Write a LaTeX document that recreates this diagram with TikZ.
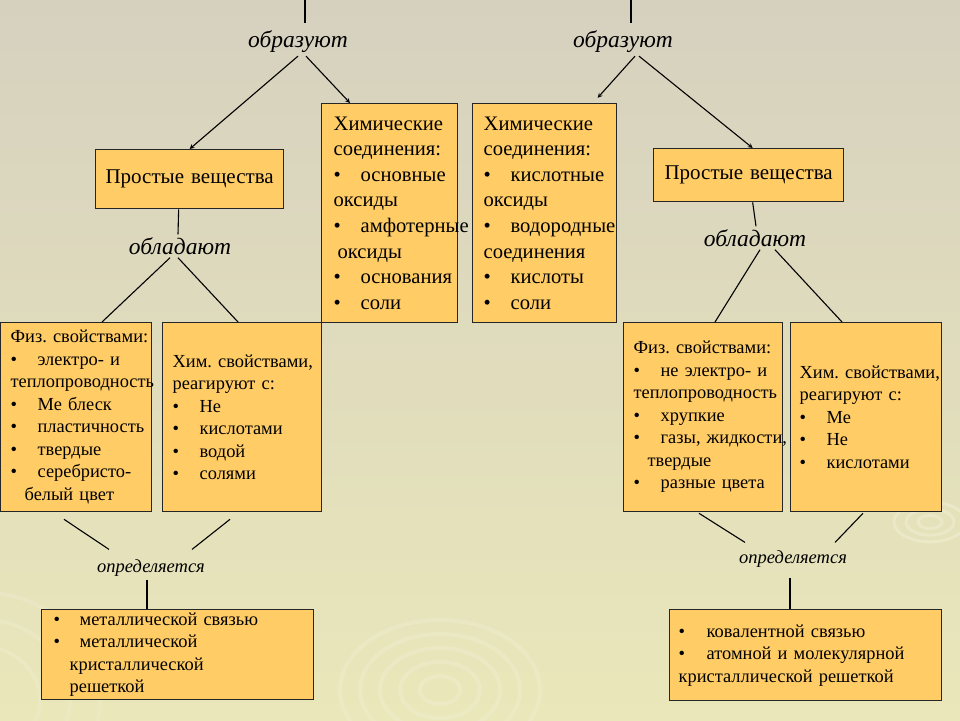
\documentclass[tikz,border=0pt]{standalone}
\usepackage{fontspec}
\setmainfont{Liberation Serif}
\usetikzlibrary{arrows}
\definecolor{boxfill}{HTML}{FFCC66}
\definecolor{bgtop}{RGB}{214,209,191}
\definecolor{bgbot}{RGB}{234,231,186}
\definecolor{ripple}{RGB}{242,240,214}
\newcommand\itm[1][27pt]{\makebox[#1][l]{\textbullet}}
\frenchspacing
\begin{document}
\begin{tikzpicture}[x=1pt, y=-1pt,
  box/.style={draw=black!85, line width=1.3pt, fill=boxfill, anchor=north west,
              align=left, inner ysep=2pt, inner xsep=10pt,
              font=\fontsize{18.4}{22.5}\selectfont},
  bigbox/.style={box, font=\fontsize{20.6}{25.6}\selectfont},
  lbl/.style={inner sep=3pt, font=\fontsize{23.5}{26}\selectfont\itshape},
  smalllbl/.style={inner sep=3pt, font=\fontsize{18.5}{20}\selectfont\itshape},
  arr/.style={->, >=stealth, line width=1.1pt},
  link/.style={line width=1.1pt}
]
  % --- background ---
  \shade[top color=bgtop, bottom color=bgbot] (0,0) rectangle (960,720);
  \useasboundingbox (0,0) rectangle (960,720);
  \foreach \r in {12,24,36}
    \draw[ripple, line width=3pt, opacity=0.5] (930,522) ellipse ({\r pt} and {0.55*\r pt});
  \foreach \r in {20,40,60,80,100}
    \draw[ripple, line width=4pt, opacity=0.35] (440,690) ellipse ({\r pt} and {0.7*\r pt});
  \foreach \r in {60,90,120}
    \draw[ripple, line width=4pt, opacity=0.3] (-20,700) ellipse ({\r pt} and {0.9*\r pt});

  % --- top lines and labels ---
  \coordinate (topL) at (305,0);
  \coordinate (topR) at (631,0);
  \node[lbl] (formL) at (298,42) {образуют};
  \node[lbl] (formR) at (623,42) {образуют};
  \draw[link, shorten >=5pt] (topL) -- (topL |- formL.north);
  \draw[link, shorten >=5pt] (topR) -- (topR |- formR.north);

  % --- second row ---
  \node[box, font=\fontsize{21}{24}\selectfont, align=center, inner xsep=4pt, text width=180pt,
        minimum height=59pt] (prostL) at (95,149) {Простые вещества};
  \node[box, font=\fontsize{21}{24}\selectfont, align=center, inner xsep=4pt, text width=182pt,
        minimum height=53pt] (prostR) at (653,148) {Простые вещества};

  \node[bigbox, inner xsep=12pt, text width=112pt, minimum height=219pt] (chemL) at (321,103)
    {Химические\\соединения:\\\itm основные\\оксиды\\\itm\mbox{амфотерные}\\\hspace*{4pt}оксиды\\\itm основания\\\itm соли};
  \node[bigbox, inner xsep=11pt, text width=122pt, minimum height=219pt] (chemR) at (472,103)
    {Химические\\соединения:\\\itm кислотные\\оксиды\\\itm\mbox{водородные}\\соединения\\\itm кислоты\\\itm соли};

  \draw[arr] (formL.south) -- (prostL.north);
  \draw[arr] ([xshift=8pt]formL.south) -- ([xshift=29pt]chemL.north west);
  \draw[arr, shorten >=7pt] ([xshift=12pt]formR.south) -- ([xshift=121pt]chemR.north west);
  \draw[arr] ([xshift=16pt]formR.south) -- ([xshift=4pt]prostR.north);

  % --- свойства ---
  \node[lbl] (hasL) at (180,246) {обладают};
  \node[lbl] (hasR) at (755,238) {обладают};
  \draw[link] ([xshift=-11pt]prostL.south) -- ([xshift=-2pt]hasL.north);
  \draw[link] ([xshift=4pt]prostR.south) -- ([xshift=1pt]hasR.north);

  \node[box, text width=131pt, minimum height=189pt] (physL) at (0,322)
    {\mbox{Физ. свойствами:}\\\itm электро- и\\\mbox{теплопроводность}\\\itm Ме блеск\\\itm пластичность\\\itm твердые\\\itm серебристо-\\\hspace*{14pt}белый цвет};
  \node[box, text width=139pt, minimum height=189pt] (propL) at (162,322)
    {\mbox{Хим. свойствами,}\\реагируют с:\\\itm Не\\\itm кислотами\\\itm водой\\\itm солями\\[12pt]};
  \node[box, text width=139pt, minimum height=189pt] (physR) at (623,322)
    {\mbox{Физ. свойствами:}\\\itm не электро- и\\\mbox{теплопроводность}\\\itm хрупкие\\\itm\mbox{газы, жидкости,}\\\hspace*{14pt}твердые\\\itm разные цвета};
  \node[box, inner xsep=9pt, text width=133pt, minimum height=189pt] (propR) at (790,322)
    {\mbox{Хим. свойствами,}\\реагируют с:\\\itm Ме\\\itm Не\\\itm кислотами};

  \draw[link] ([xshift=-10pt]hasL.south) -- ([xshift=102pt]physL.north west);
  \draw[link] ([xshift=-2pt]hasL.south) -- ([xshift=76pt]propL.north west);
  \draw[link] ([xshift=5pt]hasR.south) -- ([xshift=92pt]physR.north west);
  \draw[link] ([xshift=20pt]hasR.south) -- ([xshift=52pt]propR.north west);

  % --- определяется ---
  \node[smalllbl] (detlabL) at (151,568) {определяется};
  \node[smalllbl] (detlabR) at (793,559) {определяется};
  \draw[link] ([xshift=64pt,yshift=-7pt]physL.south west) -- ([xshift=-42pt,yshift=7pt]detlabL.north);
  \draw[link] ([xshift=68pt,yshift=-7pt]propL.south west) -- ([xshift=41pt,yshift=7pt]detlabL.north);
  \draw[link] ([xshift=76pt,yshift=-1pt]physR.south west) -- ([xshift=-48pt,yshift=5pt]detlabR.north);
  \draw[link] ([xshift=73pt,yshift=-1pt]propR.south west) -- ([xshift=42pt,yshift=5pt]detlabR.north);

  \node[box, inner xsep=12pt, text width=248pt, minimum height=90pt] (detL) at (41,609)
    {\itm[26pt]металлической связью\\\itm[26pt]металлической\\\hspace*{16pt}кристаллической\\\hspace*{16pt}решеткой};
  \node[box, inner xsep=9pt, text width=254pt, minimum height=91pt] (detR) at (669,609)
    {\itm[28pt]ковалентной связью\\\itm[28pt]атомной и молекулярной\\кристаллической решеткой};

  \draw[link] ([xshift=-4pt]detlabL.south) -- ([xshift=106pt]detL.north west);
  \draw[link, shorten <=7pt] ([xshift=-3pt]detlabR.south) -- ([xshift=121pt]detR.north west);
\end{tikzpicture}
\end{document}
